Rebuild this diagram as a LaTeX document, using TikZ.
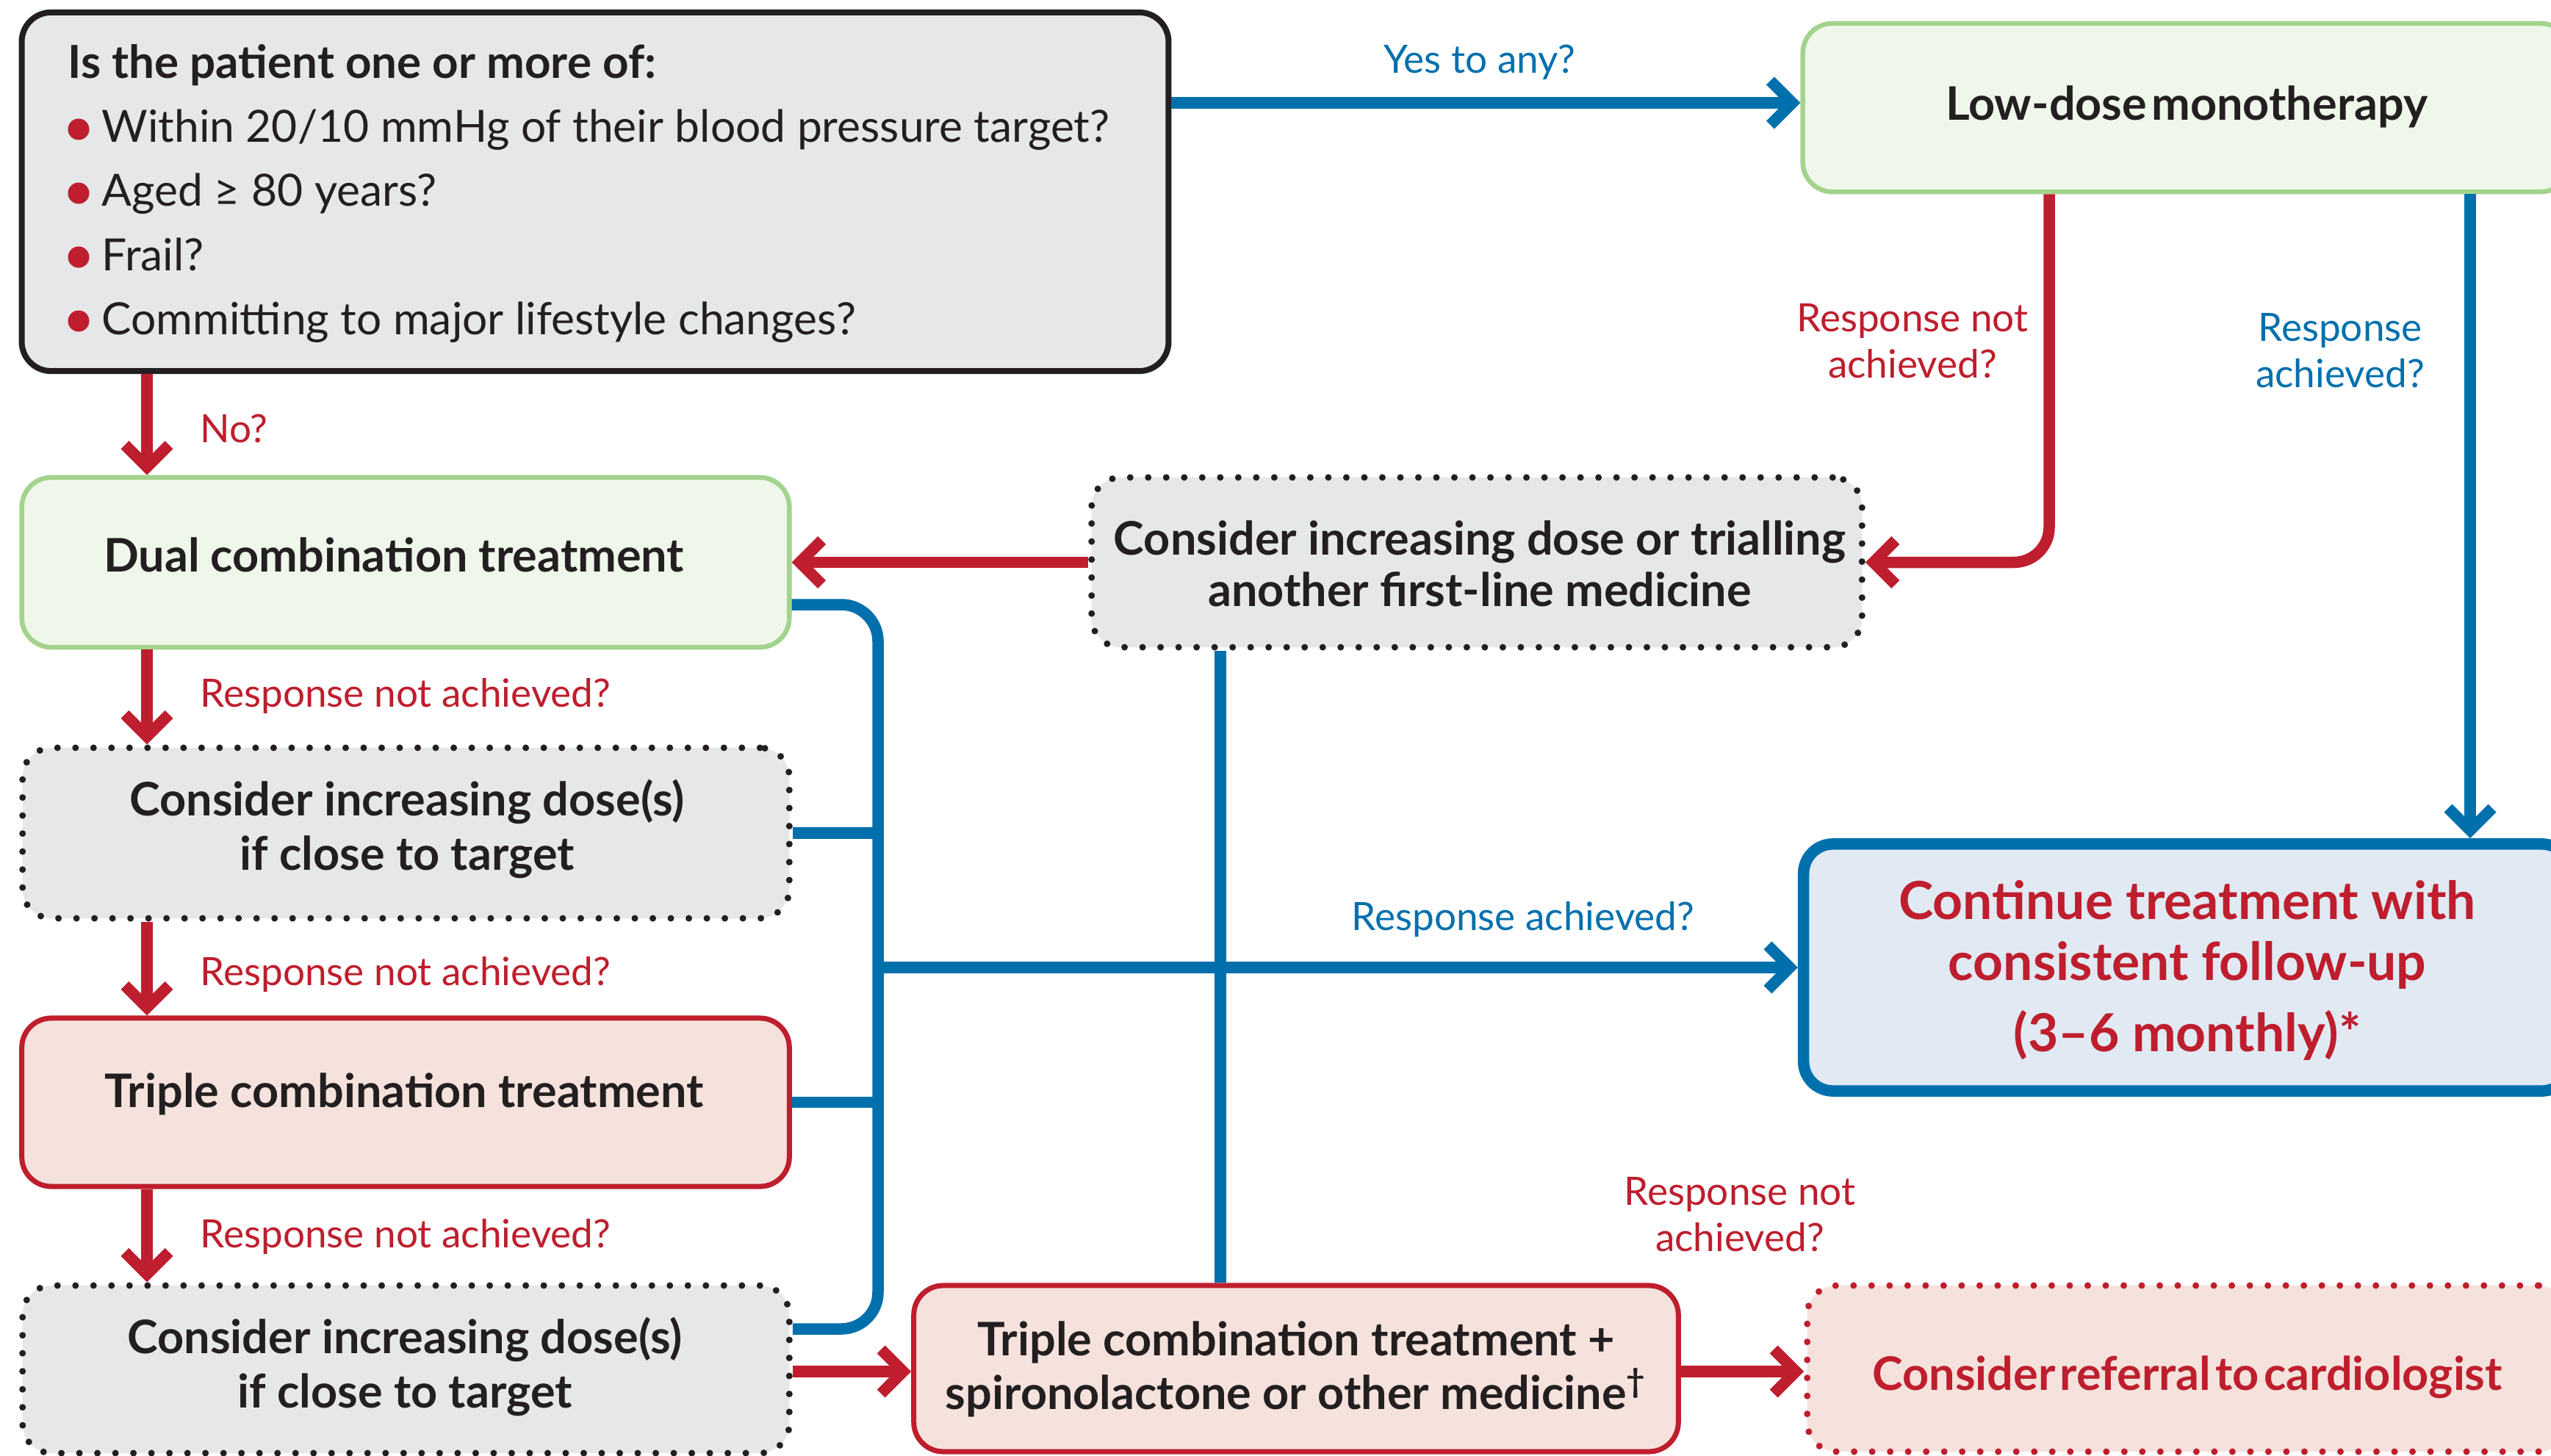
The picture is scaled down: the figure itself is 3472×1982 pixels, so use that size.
\documentclass[tikz,border=0pt]{standalone}
\usepackage{fontspec}
\setmainfont{Lato}
\usetikzlibrary{arrows.meta}
\definecolor{ink}{HTML}{231F20}
\definecolor{bpblue}{HTML}{0070AD}
\definecolor{bpred}{HTML}{BE1E2D}
\definecolor{gyfill}{HTML}{E6E7E8}
\definecolor{gnline}{HTML}{A3D38D}
\definecolor{gnfill}{HTML}{EFF7EB}
\definecolor{pkfill}{HTML}{F5E2DC}
\definecolor{blfill}{HTML}{E1E9F3}
\tikzset{
  boxbase/.style={rectangle, rounded corners=0.4cm, inner sep=0pt},
  greybox/.style={boxbase, draw=ink, line width=0.08cm, fill=gyfill},
  greenbox/.style={boxbase, draw=gnline, line width=0.065cm, fill=gnfill},
  redbox/.style={boxbase, draw=bpred, line width=0.07cm, fill=pkfill},
  bluebox/.style={boxbase, draw=bpblue, line width=0.155cm, fill=blfill},
  dotbox/.style={boxbase, draw=ink, line width=0.09cm, fill=gyfill, dash pattern=on 0pt off 0.245cm, line cap=round},
  reddotbox/.style={boxbase, draw=bpred, line width=0.09cm, fill=pkfill, dash pattern=on 0pt off 0.245cm, line cap=round},
  conn/.style={line width=0.155cm},
  bconn/.style={conn, draw=bpblue},
  rconn/.style={conn, draw=bpred},
  headarrow/.style={-{Straight Barb[length=0.3cm,width=0.6cm]}},
  boxtext/.style={anchor=base, inner sep=0pt, text=ink, font=\bfseries\fontsize{17.9pt}{21pt}\selectfont},
  bigtext/.style={anchor=base, inner sep=0pt, text=bpred, font=\bfseries\fontsize{20.3pt}{24pt}\selectfont},
  bodytext/.style={anchor=base west, inner sep=0pt, text=ink, font=\fontsize{17.2pt}{20pt}\selectfont},
  rlabel/.style={anchor=base, inner sep=0pt, text=bpred, font=\fontsize{15.1pt}{18pt}\selectfont},
  blabel/.style={anchor=base, inner sep=0pt, text=bpblue, font=\fontsize{15.1pt}{18pt}\selectfont},
}
\begin{document}
\begin{tikzpicture}[x=0.01cm, y=-0.01cm]
\useasboundingbox (0,0) rectangle (3472,1982);
\fill[white] (0,0) rectangle (3472,1982);

% boxes
\node[greybox, minimum width=15.60cm, minimum height=4.88cm] (q) at (810,261) {};
\node[greenbox, minimum width=10.44cm, minimum height=2.29cm] (ld) at (2976,146.5) {};
\node[dotbox, minimum width=10.48cm, minimum height=2.31cm] (tr) at (2010,765.5) {};
\node[greenbox, minimum width=10.44cm, minimum height=2.31cm] (du) at (552,765.5) {};
\node[dotbox, minimum width=10.43cm, minimum height=2.32cm] (c1) at (552.5,1134) {};
\node[redbox, minimum width=10.44cm, minimum height=2.29cm] (tp) at (552,1500.5) {};
\node[dotbox, minimum width=10.43cm, minimum height=2.28cm] (c2) at (552.5,1864) {};
\node[redbox, minimum width=10.40cm, minimum height=2.26cm] (sp) at (1764,1863) {};
\node[bluebox, minimum width=10.44cm, minimum height=3.36cm] (ct) at (2977,1317) {};
\node[reddotbox, minimum width=10.34cm, minimum height=2.26cm] (rf) at (2977,1863) {};

% top box text
\node[bodytext, font=\bfseries\fontsize{17.6pt}{20pt}\selectfont] (q0) at (92,107) {Is the patient one or more of:};
\node[bodytext] (q1) at (138,194) {Within 20/10 mmHg of their blood pressure target?};
\node[bodytext] (q2) at (138,281) {Aged ≥ 80 years?};
\node[bodytext] (q3) at (138,368) {Frail?};
\node[bodytext] (q4) at (138,455) {Committing to major lifestyle changes?};
\foreach \yy in {176,263,350,437} \fill[bpred] (107,\yy) circle[radius=14.5];

% box texts
\node[boxtext] (ldT) at (2976,164) {Low-dose\hspace{0.1em}monotherapy};
\node[boxtext] (trT1) at (2014,755) {Consider increasing dose or trialling};
\node[boxtext] (trT2) at (2014,825) {another first-line medicine};
\node[boxtext] (duT) at (536,778) {Dual combination treatment};
\node[boxtext] (c1T1) at (554,1110) {Consider increasing dose(s)};
\node[boxtext] (c1T2) at (554,1184) {if close to target};
\node[boxtext] (tpT) at (550,1507) {Triple combination treatment};
\node[boxtext] (c2T1) at (551,1842) {Consider increasing dose(s)};
\node[boxtext] (c2T2) at (551,1916) {if close to target};
\node[boxtext] (spT1) at (1764,1845) {Triple combination treatment +};
\node[boxtext] (spT2) at (1764,1918) {spironolactone or other medicine\textsuperscript{†}};
\node[bigtext] (ctT1) at (2977,1251) {Continue treatment with};
\node[bigtext] (ctT2) at (2977,1334) {consistent follow-up};
\node[bigtext] (ctT3) at (2977,1431) {(3–6 monthly)*};
\node[boxtext, text=bpred] (rfT) at (2977,1892) {Consider\hspace{0.1em}referral\hspace{0.1em}to\hspace{0.1em}cardiologist};

% labels
\node[blabel] (yes) at (2014,100) {Yes to any?};
\node[rlabel, anchor=base west] (no) at (272,602) {No?};
\node[rlabel, anchor=base west] (rn1) at (272,962) {Response not achieved?};
\node[rlabel, anchor=base west] (rn2) at (272,1341) {Response not achieved?};
\node[rlabel, anchor=base west] (rn3) at (272,1698) {Response not achieved?};
\node[rlabel] (rn4a) at (2603,451) {Response not};
\node[rlabel] (rn4b) at (2603,514) {achieved?};
\node[blabel] (ra1a) at (3185,464) {Response};
\node[blabel] (ra1b) at (3185,527) {achieved?};
\node[blabel] (ra2) at (2073,1266) {Response achieved?};
\node[rlabel] (rn5a) at (2368,1640) {Response not};
\node[rlabel] (rn5b) at (2368,1703) {achieved?};

% helper coordinates
\coordinate (xl) at (200,0);
\coordinate (xr) at (2789,0);
\coordinate (xb) at (3362,0);
\coordinate (xbus) at (1195,0);
\coordinate (xv) at (1661,0);
\coordinate (yy) at (0,140);
\coordinate (ya) at (0,823);
\coordinate (yb) at (0,1809);
\coordinate (yc) at (0,1867);

% connectors
\draw[bconn, headarrow] (q.east |- yy) -- (ld.west |- yy);
\draw[rconn, headarrow] (q.south -| xl) -- (du.north -| xl);
\draw[rconn, headarrow] (du.south -| xl) -- (c1.north -| xl);
\draw[rconn, headarrow] (c1.south -| xl) -- (tp.north -| xl);
\draw[rconn, headarrow] (tp.south -| xl) -- (c2.north -| xl);
\draw[rconn, headarrow, rounded corners=0.48cm] (ld.south -| xr) |- (tr.east);
\draw[rconn, headarrow] (tr.west) -- (du.east);
\draw[bconn, headarrow] (ld.south -| xb) -- (ct.north -| xb);
\draw[bconn, rounded corners=0.5cm] (du.east |- ya) -| (xbus |- yb) -- (c2.east |- yb);
\draw[bconn] (c1.east) -- (c1.east -| xbus);
\draw[bconn] (tp.east) -- (tp.east -| xbus);
\draw[bconn, headarrow] (ct.west -| xbus) -- (ct.west);
\draw[bconn] (tr.south -| xv) -- (sp.north -| xv);
\draw[rconn, headarrow] (c2.east |- yc) -- (sp.west |- yc);
\draw[rconn, headarrow] (sp.east |- yc) -- (rf.west |- yc);
\end{tikzpicture}
\end{document}
